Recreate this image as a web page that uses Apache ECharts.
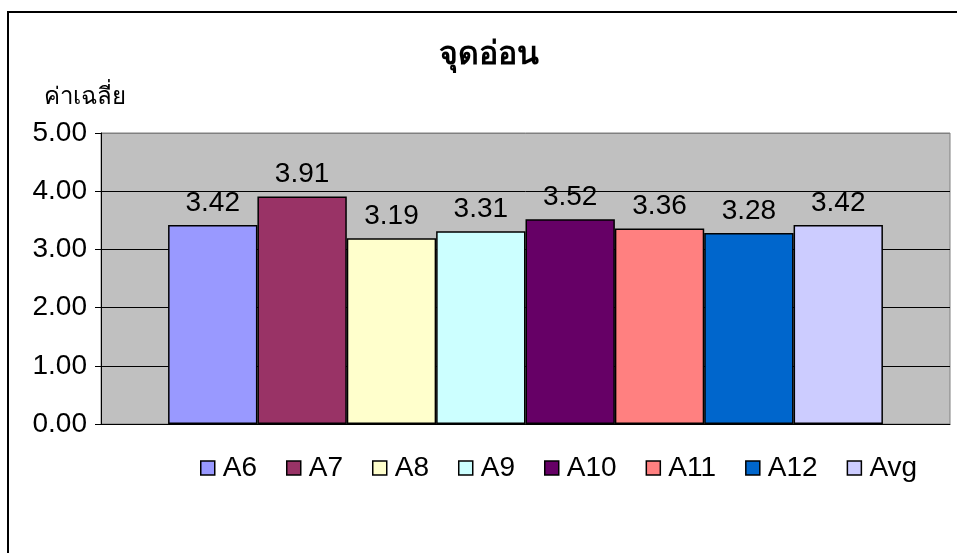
<!DOCTYPE html>
<html>
<head>
<meta charset="utf-8">
<script src="https://cdn.jsdelivr.net/npm/echarts@6/dist/echarts.min.js"></script>
<style>
  html, body { margin: 0; padding: 0; background: #fff; }
  #chart { width: 957px; height: 553px; }
</style>
</head>
<body>
<div id="chart"></div>
<script>
    var titleText = 'จุดอ่อน';
    var yName = 'ค่าเฉลี่ย';
    var seriesNames = ['A6', 'A7', 'A8', 'A9', 'A10', 'A11', 'A12', 'Avg'];
    var seriesValues = [3.42, 3.91, 3.19, 3.31, 3.52, 3.36, 3.28, 3.42];
    var seriesColors = ['#9999FF', '#993366', '#FFFFCC', '#CCFFFF', '#660066', '#FF8080', '#0066CC', '#CCCCFF'];
    var yTicks = [0, 1, 2, 3, 4, 5];

    var dom = document.getElementById('chart');
    var myChart = echarts.init(dom, null, { renderer: 'canvas' });
    var font = 'Liberation Sans, Arial, sans-serif';

    var series = seriesNames.map(function (name, i) {
        return {
            name: name,
            type: 'bar',
            data: [seriesValues[i]],
            barGap: '0%',
            barCategoryGap: '15.8%',
            itemStyle: { color: seriesColors[i], borderColor: '#000', borderWidth: 1.5 },
            label: {
                show: true,
                position: 'top',
                distance: 8,
                color: '#000',
                fontFamily: font,
                fontSize: 28,
                formatter: function (p) { return p.value.toFixed(2); }
            }
        };
    });

    // top grid line is the gray plot border in the original
    var splitColors = yTicks.map(function (t, i) { return i === yTicks.length - 1 ? '#808080' : '#000'; });

    var option = {
        animation: false,
        title: {
            text: titleText,
            left: 484,
            textAlign: 'center',
            top: 34,
            textStyle: { fontFamily: font, fontSize: 32, fontWeight: 'bold', color: '#000' }
        },
        legend: {
            data: seriesNames,
            top: 449,
            left: 195,
            itemWidth: 14,
            itemHeight: 14,
            itemGap: 29,
            icon: 'rect',
            textStyle: { fontFamily: font, fontSize: 28, color: '#000', padding: [0, 0, 0, 3] },
            itemStyle: { borderColor: '#000', borderWidth: 1.5 }
        },
        grid: {
            left: 101, top: 133, right: 7, bottom: 129,
            show: true, backgroundColor: '#C0C0C0', borderColor: '#808080', borderWidth: 1
        },
        xAxis: {
            type: 'category',
            data: [''],
            axisLine: { lineStyle: { color: '#000', width: 1 } },
            axisTick: { show: false },
            axisLabel: { show: false }
        },
        yAxis: {
            type: 'value',
            name: yName,
            nameLocation: 'end',
            nameGap: 24,
            nameTextStyle: { fontFamily: font, fontSize: 24, color: '#000', align: 'center', padding: [0, 0, 0, -32] },
            min: yTicks[0],
            max: yTicks[yTicks.length - 1],
            interval: 1,
            axisLine: { show: true, lineStyle: { color: '#000' } },
            axisTick: { show: true, length: 6, lineStyle: { color: '#000' } },
            splitLine: { lineStyle: { color: splitColors, width: 1 } },
            axisLabel: {
                fontFamily: font, fontSize: 28, color: '#000', margin: 14,
                formatter: function (v) { return v.toFixed(2); }
            }
        },
        graphic: [{
            type: 'rect',
            shape: { x: 8, y: 12, width: 1000, height: 600 },
            style: { fill: 'none', stroke: '#000', lineWidth: 2 },
            silent: true
        }],
        series: series
    };

    option && myChart.setOption(option);
</script>
</body>
</html>
